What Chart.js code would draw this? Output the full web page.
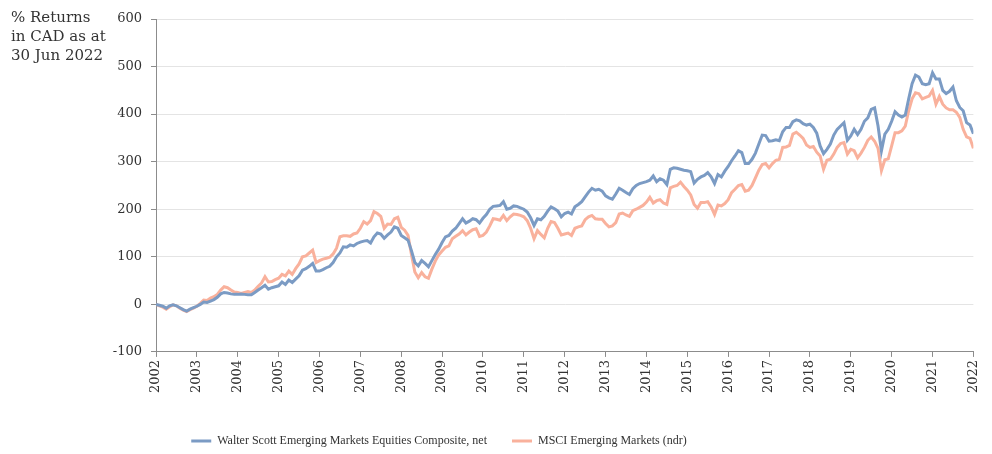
<!DOCTYPE html>
<html>
<head>
<meta charset="utf-8">
<script src="https://cdn.jsdelivr.net/npm/chart.js@4.4.1/dist/chart.umd.min.js"></script>
<style>
  body { margin: 0; background: #fff; }
  #wrap { position: relative; width: 992px; height: 454px; }
  #note {
    position: absolute; left: 11px; top: 8px;
    font-family: "DejaVu Serif", serif; font-size: 15px; line-height: 19px; color: #333;
  }
</style>
</head>
<body>
<div id="wrap">
  <canvas id="returns-chart"></canvas>
  <div id="note">% Returns<br>in CAD as at<br>30 Jun 2022</div>
</div>
<script>
// Year labels placed every 12 months along the x axis
const yearTicks = ['2002', '2003', '2004', '2005', '2006', '2007', '2008', '2009', '2010', '2011',
    '2012', '2013', '2014', '2015', '2016', '2017', '2018', '2019', '2020', '2021', '2022'];

// Monthly cumulative % returns (one row per year)
const wsComposite = [
    0, -2, -4, -8, -3, -1, -3, -7, -11, -14, -10, -7,
    -4, 0, 5, 4, 7, 10, 15, 22, 25, 24, 22, 21,
    21, 22, 21, 20, 20, 25, 30, 35, 40, 32, 35, 37,
    39, 47, 42, 51, 46, 53, 60, 72, 75, 80, 86, 70,
    70, 73, 77, 80, 88, 100, 108, 121, 120, 125, 123, 128,
    131, 133, 134, 129, 142, 150, 148, 139, 146, 152, 163, 160,
    145, 140, 135, 113, 88, 81, 92, 86, 79, 92, 105, 116,
    130, 142, 145, 154, 160, 170, 180, 171, 175, 180, 178, 171,
    181, 189, 200, 206, 207, 208, 216, 200, 202, 207, 206, 203,
    200, 194, 182, 166, 180, 178, 185, 196, 205, 201, 196, 184,
    191, 194, 190, 205, 210, 216, 226, 236, 244, 240, 242, 238,
    228, 224, 221, 232, 244, 240, 235, 231, 243, 250, 254, 256,
    258, 261, 270, 258, 264, 261, 252, 284, 287, 286, 284, 282,
    281, 279, 255, 263, 268, 271, 277, 268, 254, 273, 268, 280,
    290, 302, 312, 323, 319, 296, 296, 305, 318, 337, 356, 355,
    343, 344, 346, 344, 363, 372, 372, 384, 388, 386, 380, 377,
    379, 372, 360, 333, 317, 326, 337, 356, 368, 375, 382, 345,
    354, 368, 357, 368, 385, 392, 410, 413, 375, 323, 358, 368,
    385, 405, 398, 394, 398, 432, 464, 482, 478, 464, 462, 464,
    487, 474, 474, 450, 443, 448, 457, 428, 414, 407, 382, 377,
    359
];

const msciEM = [
    0, -3, -6, -10, -5, -1, -3, -8, -12, -15, -11, -8,
    -4, 2, 9, 8, 13, 16, 21, 30, 37, 35, 30, 26,
    25, 23, 25, 27, 25, 30, 38, 45, 58, 47, 48, 52,
    55, 63, 60, 70, 63, 75, 85, 100, 102, 108, 114, 88,
    92, 95, 97, 99, 106, 118, 142, 144, 144, 143, 148, 150,
    160, 174, 169, 176, 195, 191, 185, 160, 169, 168, 180, 183,
    162, 156, 145, 105, 68, 56, 67, 58, 55, 74, 91, 104,
    112, 120, 123, 138, 143, 148, 155, 146, 152, 157, 159, 143,
    145, 152, 165, 180, 179, 177, 187, 176, 184, 190, 189, 187,
    184, 176, 160, 138, 155, 147, 140, 160, 174, 172, 160, 146,
    148, 150, 145, 160, 163, 165, 178, 184, 187, 180, 179, 179,
    170, 163, 165, 172, 190, 192, 188, 185, 197, 200, 204, 208,
    215, 225, 213, 218, 220, 213, 210, 245, 248, 250, 257, 248,
    240, 230, 210, 202, 214, 214, 216, 205, 189, 209, 207, 212,
    220, 235, 242, 250, 252, 238, 240, 250, 266, 282, 294, 296,
    287, 296, 303, 305, 330, 331, 334, 358, 362, 356, 349, 335,
    330, 332, 320, 312, 284, 303, 305, 316, 330, 338, 340, 316,
    326, 323, 308, 318, 330, 345, 352, 343, 328, 281, 304, 306,
    333, 361, 361, 365, 375, 407, 432, 445, 443, 432, 435, 438,
    450, 421, 437, 421, 413, 409, 409, 404, 393, 368, 352, 349,
    328
];

const seriesNames = ['Walter Scott Emerging Markets Equities Composite, net', 'MSCI Emerging Markets (ndr)'];
const seriesColors = ['#7b9bc4', '#f9b19c'];

const toPoints = arr => arr.map((v, i) => ({ x: i, y: v }));

const axisGrey = '#8c8c8c';
const tickFont = { family: 'DejaVu Serif', size: 13 };

// nudge the bottom legend so it sits where the original one does
const legendNudge = {
    id: 'legendNudge',
    afterLayout(chart) {
        const lg = chart.legend;
        lg.right -= 98;
        lg.top += 14;
        lg.bottom += 14;
    }
};

const ctx = document.getElementById('returns-chart').getContext('2d');
new Chart(ctx, {
    type: 'line',
    data: {
        datasets: [
            { label: seriesNames[0], data: toPoints(wsComposite), borderColor: seriesColors[0], backgroundColor: seriesColors[0],
              borderWidth: 3, pointRadius: 0, tension: 0 },
            { label: seriesNames[1], data: toPoints(msciEM), borderColor: seriesColors[1], backgroundColor: seriesColors[1],
              borderWidth: 3, pointRadius: 0, tension: 0 }
        ]
    },
    options: {
        responsive: true,
        maintainAspectRatio: false,
        animation: false,
        layout: { padding: { top: 19, right: 16, left: 0, bottom: 11 } },
        plugins: {
            tooltip: { enabled: false },
            legend: {
                position: 'bottom',
                labels: {
                    color: '#333',
                    font: { family: 'Liberation Serif', size: 12 },
                    boxWidth: 20,
                    boxHeight: 3,
                    padding: 25,
                    generateLabels(chart) {
                        const items = Chart.defaults.plugins.legend.labels.generateLabels(chart);
                        items.forEach(it => { it.lineWidth = 0; it.fillStyle = it.strokeStyle; });
                        return items;
                    }
                }
            }
        },
        scales: {
            x: {
                type: 'linear',
                min: 0,
                max: 240,
                grid: { drawOnChartArea: false, tickLength: 5, tickColor: axisGrey },
                border: { color: axisGrey },
                ticks: {
                    stepSize: 12,
                    autoSkip: false,
                    minRotation: 90,
                    maxRotation: 90,
                    padding: 3,
                    color: '#333',
                    font: tickFont,
                    callback: v => yearTicks[v / 12]
                }
            },
            y: {
                min: -100,
                max: 600,
                afterFit: scale => { scale.width = 156; },
                grid: { color: '#e4e4e4', tickLength: 5, tickColor: axisGrey },
                border: { color: axisGrey },
                ticks: { stepSize: 100, padding: 9, color: '#333', font: tickFont }
            }
        }
    },
    plugins: [legendNudge]
});
</script>
</body>
</html>
